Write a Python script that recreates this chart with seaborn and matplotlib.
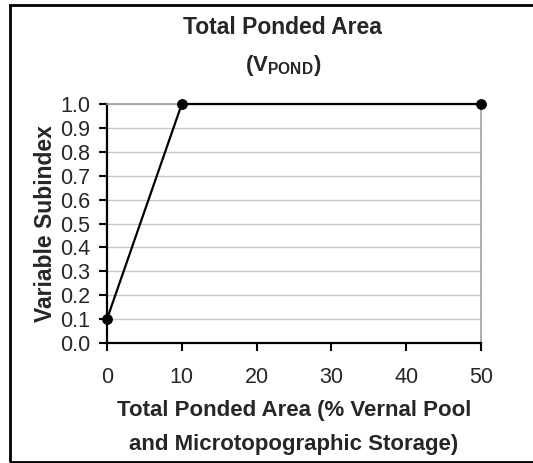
import matplotlib
matplotlib.use("Agg")
import matplotlib.pyplot as plt
import seaborn as sns
import pandas as pd
from matplotlib.patches import Rectangle

pond_area = [0, 10, 50]
subindex = [0.1, 1.0, 1.0]
x_ticks = [0, 10, 20, 30, 40, 50]
y_ticks = [0.0, 0.1, 0.2, 0.3, 0.4, 0.5, 0.6, 0.7, 0.8, 0.9, 1.0]

sns.set_theme(style="white")
plt.rcParams['font.family'] = ['Liberation Sans', 'DejaVu Sans']
plt.rcParams['mathtext.fontset'] = 'custom'
plt.rcParams['mathtext.rm'] = 'Liberation Sans'
plt.rcParams['mathtext.bf'] = 'Liberation Sans:bold'

df = pd.DataFrame({"x": pond_area, "y": subindex})

fig = plt.figure(figsize=(5.33, 4.63), dpi=100)
ax = fig.add_axes([107/533, 1-343/463, (481-107)/533, (343-104)/463])

for yv in y_ticks[1:]:
    ax.axhline(yv, color="#c8c8c8", lw=1.0, zorder=0)

sns.lineplot(data=df, x="x", y="y", ax=ax, color="black", lw=1.6,
             marker="o", markersize=7, markeredgecolor="black",
             markerfacecolor="black", clip_on=False, zorder=5)

ax.set_xlim(0, 50)
ax.set_ylim(0, 1.0)
ax.set_xticks(x_ticks)
ax.set_xticklabels([str(v) for v in x_ticks], fontsize=15.5)
ax.set_yticks(y_ticks)
ax.set_yticklabels([f"{v:.1f}" for v in y_ticks], fontsize=15.5)
ax.tick_params(axis="both", direction="out", length=6, width=1.5, color="black",
               bottom=True, left=True, pad=6)
ax.tick_params(axis="x", pad=11)

for s in ["left", "bottom"]:
    ax.spines[s].set_color("black")
    ax.spines[s].set_linewidth(1.6)
for s in ["right", "top"]:
    ax.spines[s].set_color("#a0a0a0")
    ax.spines[s].set_linewidth(1.2)

ax.set_xlabel("Total Ponded Area (% Vernal Pool\nand Microtopographic Storage)",
              fontsize=16, fontweight="bold", linespacing=1.8, labelpad=9)
ax.set_ylabel("Variable Subindex", fontsize=16.5, fontweight="bold", labelpad=2)

fig.text(282/533, 1-27/463, "Total Ponded Area", ha="center", va="center",
         fontsize=16.5, fontweight="bold")
fig.text(283/533, 1-66/463, r"$\mathbf{(V_{POND})}$", ha="center", va="center",
         fontsize=16)

fig.patches.append(Rectangle((10/533, 1-462/463), 1.0, (462-5)/463,
                             transform=fig.transFigure, fill=False,
                             edgecolor="black", lw=2.0, clip_on=False))

fig.savefig("out.png", dpi=100)
